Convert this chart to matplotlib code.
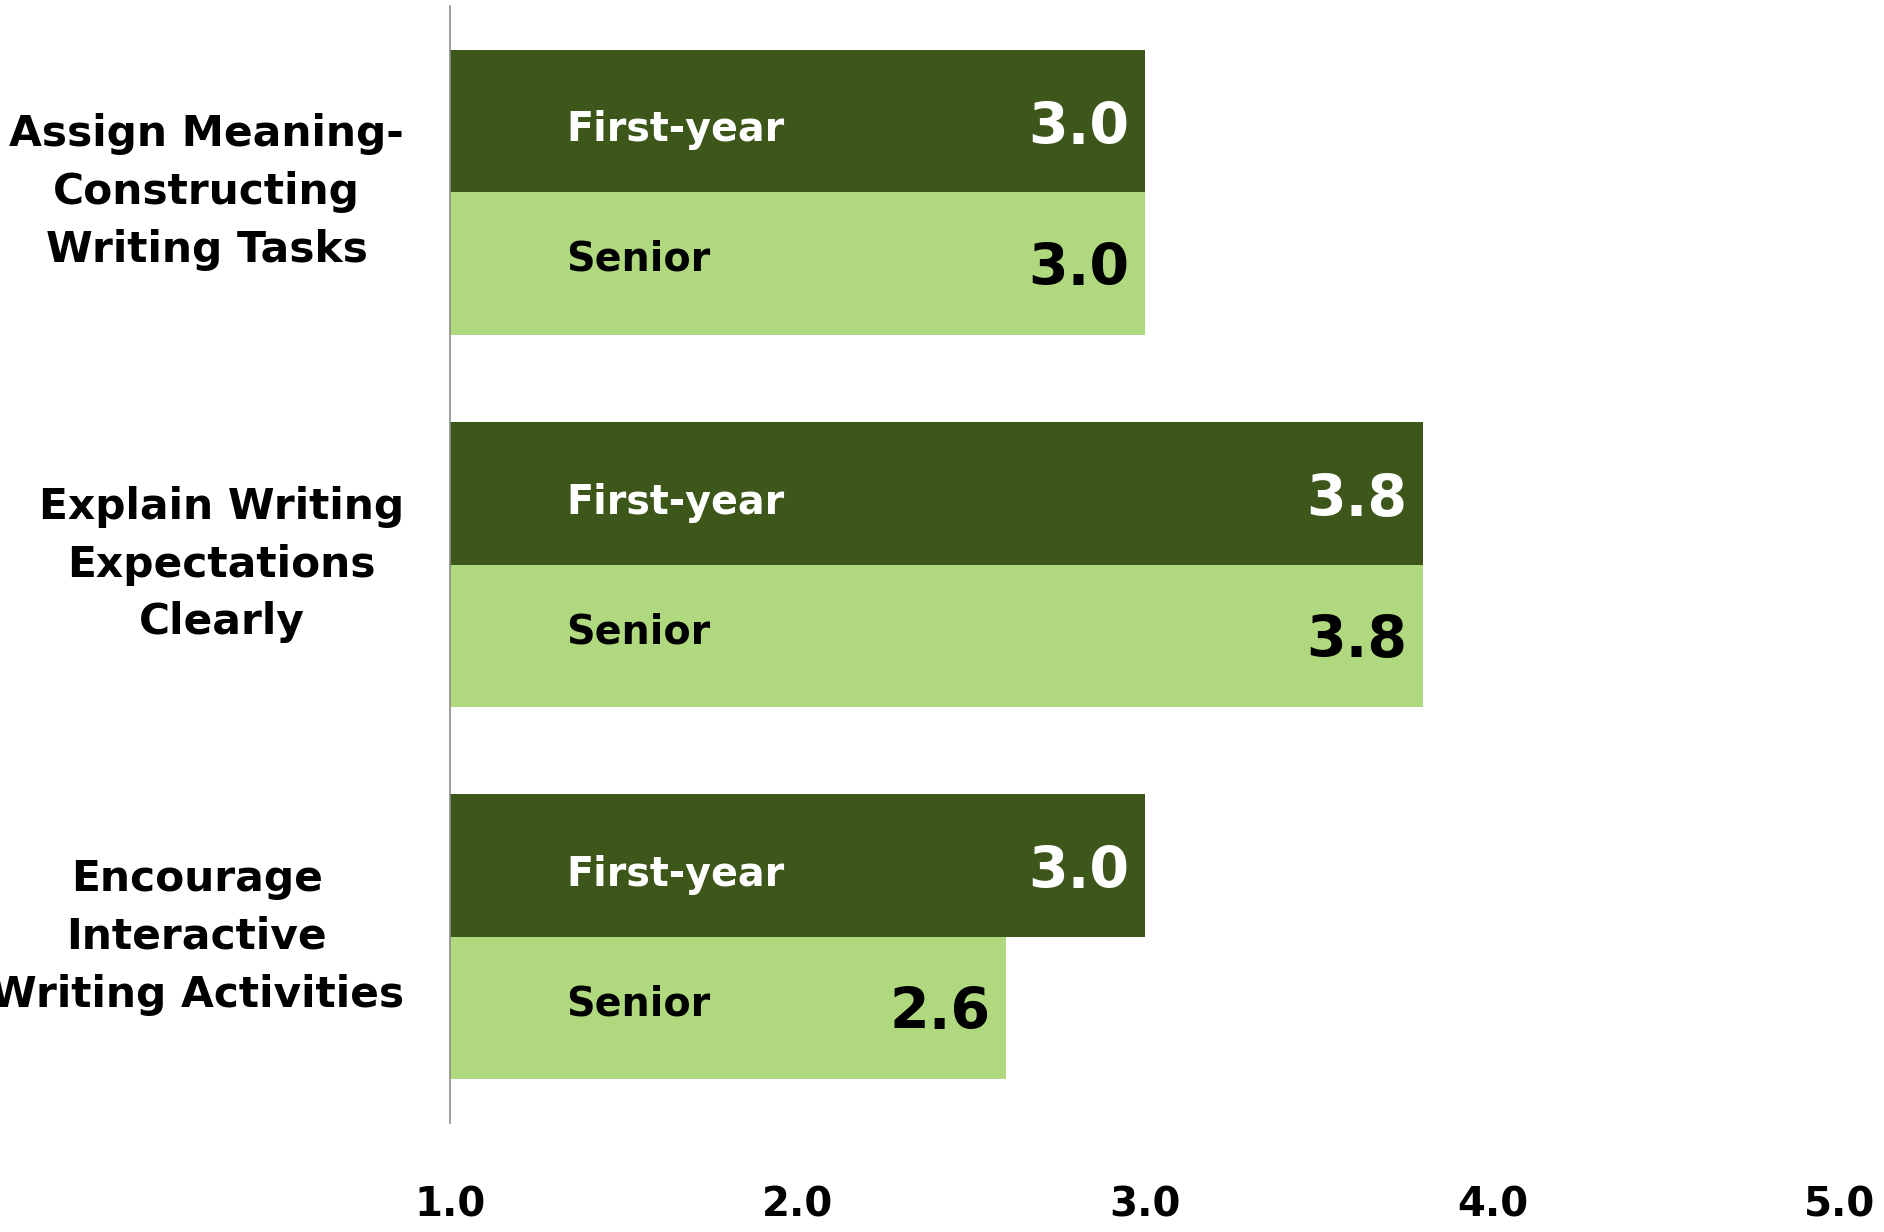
import numpy as np
import matplotlib
matplotlib.use('Agg')
import matplotlib.pyplot as plt

# Данные
categories = ['Assign Meaning-\nConstructing\nWriting Tasks',
              'Explain Writing\nExpectations\nClearly',
              'Encourage\nInteractive\nWriting Activities']
first_year = [3.0, 3.8, 3.0]
senior = [3.0, 3.8, 2.6]
series_names = ['First-year', 'Senior']
x_ticks = [1.0, 2.0, 3.0, 4.0, 5.0]

dark_green = '#3D5619'
light_green = '#B0D97F'

plt.rcParams['font.family'] = ['DejaVu Sans']

fig = plt.figure(figsize=(18.84, 12.32), dpi=100)
ax = fig.add_axes([450 / 1884, 1 - 1123 / 1232, 1390 / 1884, 1117 / 1232])

base = 1.0
h = 0.383
y = np.arange(len(categories))

ax.barh(y - h / 2, np.array(first_year) - base, height=h, left=base,
        color=dark_green, edgecolor='none')
ax.barh(y + h / 2, np.array(senior) - base, height=h, left=base,
        color=light_green, edgecolor='none')

# Подписи внутри столбцов
for i in range(len(categories)):
    ax.text(1.334, y[i] - h / 2 + 0.025, series_names[0], color='white',
            fontsize=28.5, fontweight='bold', ha='left', va='center')
    ax.text(1.334, y[i] + h / 2 - 0.01, series_names[1], color='black',
            fontsize=28.5, fontweight='bold', ha='left', va='center')
    ax.text(first_year[i] - 0.045, y[i] - h / 2 + 0.02, f'{first_year[i]:.1f}',
            color='white', fontsize=41, fontweight='bold', ha='right', va='center')
    ax.text(senior[i] - 0.045, y[i] + h / 2 + 0.015, f'{senior[i]:.1f}',
            color='black', fontsize=41, fontweight='bold', ha='right', va='center')

# Подписи категорий
for i, cat in enumerate(categories):
    ax.text(-46 / 1390, y[i], cat, transform=ax.get_yaxis_transform(),
            ha='right', va='center', multialignment='center',
            fontsize=30.5, fontweight='bold', linespacing=1.48)

ax.set_xlim(1, 5)
ax.set_ylim(2.5, -0.5)
ax.set_yticks([])
ax.set_xticks(x_ticks)
ax.set_xticklabels([f'{t:.1f}' for t in x_ticks], fontsize=29, fontweight='bold')
ax.tick_params(axis='x', length=0, pad=45)

for s in ['top', 'right', 'bottom']:
    ax.spines[s].set_visible(False)
ax.spines['left'].set_color('#8C8C8C')
ax.spines['left'].set_linewidth(1.2)

fig.savefig('out.png', dpi=100)
plt.close(fig)
